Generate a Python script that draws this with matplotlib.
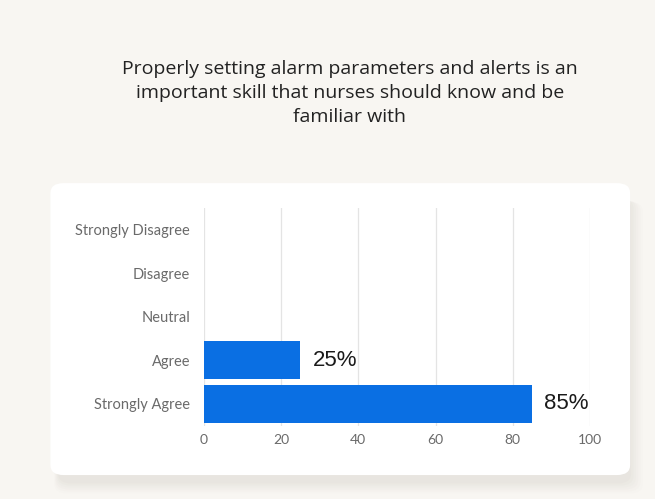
import matplotlib.pyplot as plt
import numpy as np
from matplotlib.patches import FancyBboxPatch

categories = ["Strongly Disagree", "Disagree", "Neutral", "Agree", "Strongly Agree"]
percent = [0, 0, 0, 25, 85]
value_labels = ["", "", "", "25%", "85%"]
x_ticks = [0, 20, 40, 60, 80, 100]

title = ("Properly setting alarm parameters and alerts is an\n"
         "important skill that nurses should know and be\n"
         "familiar with")

bg = "#f8f6f2"
bar_color = "#0a6fe3"

plt.rcParams['font.family'] = ['Lato', 'DejaVu Sans']

fig = plt.figure(figsize=(6.55, 4.99), dpi=100)
fig.patch.set_facecolor(bg)

# soft shadow under the card
for i, a in enumerate([0.05, 0.045, 0.04, 0.035, 0.03, 0.025]):
    grow = 0.004 * (i + 1)
    sh = FancyBboxPatch((0.09 - grow * 0.3, 0.035 - grow),
                        0.87 + grow * 1.2, 0.57 + grow * 0.6,
                        boxstyle="round,pad=0,rounding_size=0.02",
                        transform=fig.transFigure, facecolor="#b9b2a6",
                        edgecolor="none", alpha=a, zorder=0)
    fig.patches.append(sh)

card = FancyBboxPatch((0.077, 0.048), 0.885, 0.585,
                      boxstyle="round,pad=0,rounding_size=0.02",
                      transform=fig.transFigure, facecolor="white",
                      edgecolor="none", zorder=1)
fig.patches.append(card)

fig.text(0.534, 0.814, title, ha="center", va="center", fontsize=14,
         color="#222222", linespacing=1.45, family=['Open Sans', 'DejaVu Sans'])

ax = fig.add_axes([0.3115, 0.147, 0.589, 0.436])
ax.set_facecolor("none")
ax.set_zorder(2)

y = np.arange(len(categories))
bars = ax.barh(y, percent, height=0.87, color=bar_color, zorder=3)
ax.set_yticks(y, categories)
ax.set_ylim(len(categories) - 0.5, -0.5)
ax.set_xlim(0, 100)
ax.set_xticks(x_ticks)

for rect, lab in zip(bars, value_labels):
    if lab:
        ax.annotate(lab, (rect.get_width(), rect.get_y() + rect.get_height() / 2),
                    xytext=(9, 0), textcoords="offset points", ha="left",
                    va="center", fontsize=16, color="#1a1a1a",
                    family=['Liberation Sans', 'DejaVu Sans'])

ax.grid(axis="x", color="#e4e4e4", linewidth=0.9, zorder=0)
for s in ax.spines.values():
    s.set_visible(False)
ax.tick_params(axis="both", length=0, colors="#6a6a6a")
ax.tick_params(axis="y", pad=10, labelsize=10.5)
ax.tick_params(axis="x", pad=6, labelsize=10)

plt.savefig("out.png", dpi=100, facecolor=bg)
